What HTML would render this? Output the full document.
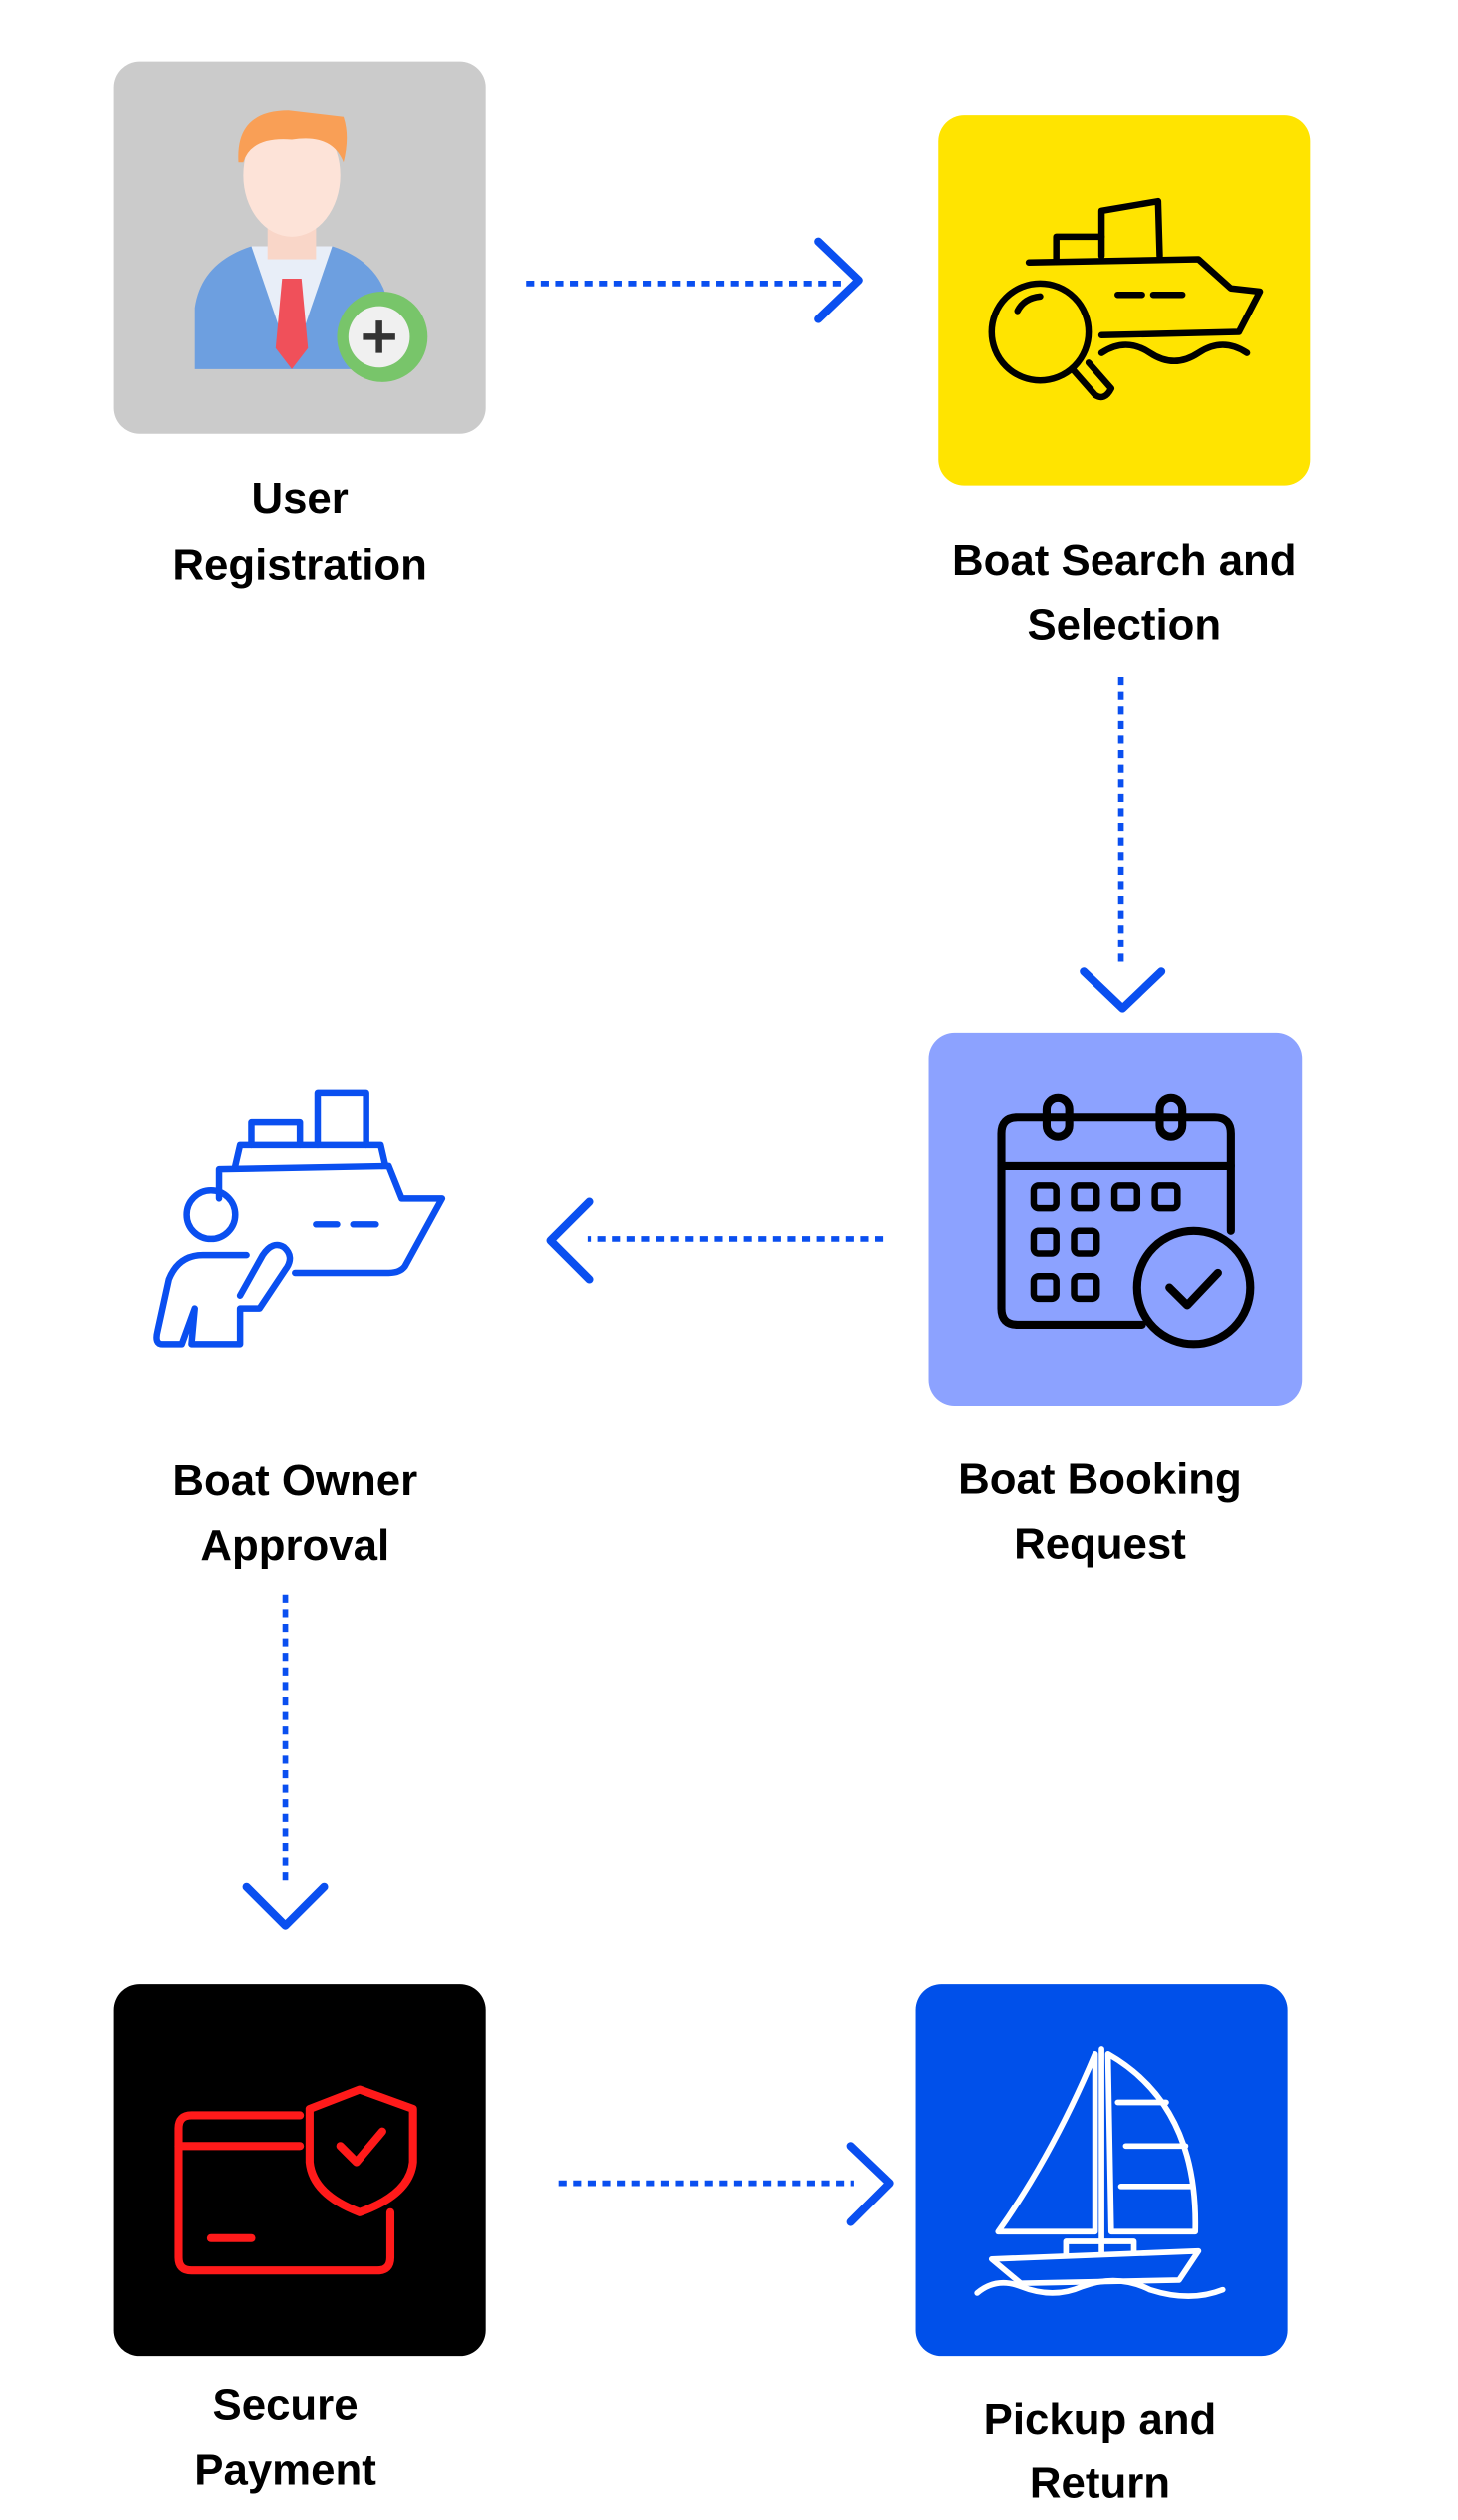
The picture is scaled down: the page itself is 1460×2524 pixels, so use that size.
<!DOCTYPE html>
<html><head><meta charset="utf-8"><style>
html,body{margin:0;padding:0;background:#fff;}
svg{display:block;}
text{font-family:"Liberation Sans",sans-serif;font-weight:bold;font-size:27px;fill:#000;text-anchor:middle;}
</style></head><body>
<svg width="1460" height="2524" viewBox="0 0 900 1556" xmlns="http://www.w3.org/2000/svg">
<!-- Box1 user registration -->
<rect x="70" y="38" width="230" height="230" rx="16" fill="#cbcbcb"/>
<path d="M120 228 L120 190 Q124 162 155 152 L205 152 Q236 162 240 190 L240 228 Z" fill="#6d9fe0"/>
<path d="M155 152 L180 225 L205 152 Z" fill="#e8eef8"/>
<path d="M174 172 L186 172 L190 215 L180 228 L170 215 Z" fill="#f0505a"/>
<rect x="165" y="130" width="30" height="30" fill="#f9d6c8"/>
<ellipse cx="180" cy="108" rx="30" ry="38" fill="#fde3d8"/>
<path d="M147 100 Q145 68 178 68 L212 72 Q216 84 212 100 Q205 82 180 86 Q155 84 150 100 Z" fill="#f99f56"/>
<circle cx="236" cy="208" r="28" fill="#78c56a"/>
<circle cx="234" cy="208" r="19" fill="#f0f0f0"/>
<path d="M234 198 V218 M224 208 H244" stroke="#333" stroke-width="4"/>
<text x="185" y="317">User</text>
<text x="185" y="358">Registration</text>

<!-- Box2 boat search -->
<rect x="579" y="71" width="230" height="229" rx="16" fill="#ffe400"/>
<g fill="none" stroke="#000" stroke-width="4" stroke-linecap="round" stroke-linejoin="round">
<path d="M680 158 L680 130 L715 124 L716 158"/>
<path d="M652 160 L652 146 L680 146"/>
<path d="M635 162 L740 160 L760 178 L778 180 L765 205 L680 207"/>
<path d="M690 182 H705 M712 182 H730"/>
<path d="M680 218 Q695 208 710 218 Q725 228 740 218 Q755 208 770 218"/>
<circle cx="642" cy="205" r="30"/>
<path d="M628 192 Q632 184 642 183"/>
<path d="M662 228 L676 244 Q682 248 686 240 L672 224"/>
</g>
<text x="694" y="355">Boat Search and</text>
<text x="694" y="395">Selection</text>

<!-- Box3 booking -->
<rect x="573" y="638" width="231" height="230" rx="16" fill="#8ca2ff"/>
<g fill="none" stroke="#000" stroke-width="5" stroke-linejoin="round" stroke-linecap="round">
<path d="M705 818 L628 818 Q618 818 618 808 L618 700 Q618 690 628 690 L750 690 Q760 690 760 700 L760 760"/>
<path d="M618 720 H760"/>
<rect x="646" y="678" width="14" height="24" rx="7"/>
<rect x="716" y="678" width="14" height="24" rx="7"/>
<circle cx="737" cy="795" r="35"/>
<path d="M722 795 L733 806 L752 786"/>
</g>
<g fill="none" stroke="#000" stroke-width="4">
<rect x="638" y="732" width="14" height="14" rx="3"/><rect x="663" y="732" width="14" height="14" rx="3"/><rect x="688" y="732" width="14" height="14" rx="3"/><rect x="713" y="732" width="14" height="14" rx="3"/>
<rect x="638" y="760" width="14" height="14" rx="3"/><rect x="663" y="760" width="14" height="14" rx="3"/>
<rect x="638" y="788" width="14" height="14" rx="3"/><rect x="663" y="788" width="14" height="14" rx="3"/>
</g>
<text x="679" y="922">Boat Booking</text>
<text x="679" y="962">Request</text>

<!-- Box4 owner -->
<g fill="none" stroke="#0a4ff0" stroke-width="4" stroke-linecap="round" stroke-linejoin="round">
<path d="M196 707 L196 675 L226 675 L226 707"/>
<path d="M155 707 L155 693 L185 693 L185 707"/>
<path d="M145 720 L148 707 L235 707 L238 720"/>
<path d="M135 740 L135 722 L240 720 L248 740 L273 740 L250 782 Q247 786 240 786 L182 786"/>
<path d="M195 756 H208 M218 756 H232"/>
<circle cx="130" cy="750" r="15"/>
<path d="M148 800 L162 775 Q168 766 175 770 Q182 776 176 784 L160 808 L148 808 L148 830 L118 830 L120 808 L112 830 L100 830 Q95 830 97 822 L104 790 Q110 775 125 775 L152 775"/>
</g>
<text x="182" y="923">Boat Owner</text>
<text x="182" y="963">Approval</text>

<!-- Box5 payment -->
<rect x="70" y="1225" width="230" height="230" rx="16" fill="#000"/>
<g fill="none" stroke="#ff1a1a" stroke-width="5" stroke-linecap="round" stroke-linejoin="round">
<path d="M185 1306 L118 1306 Q110 1306 110 1314 L110 1394 Q110 1402 118 1402 L233 1402 Q241 1402 241 1394 L241 1366"/>
<path d="M110 1325 H185"/>
<path d="M130 1382 H155"/>
<path d="M222 1290 L255 1302 L255 1335 Q253 1355 222 1366 Q193 1355 191 1335 L191 1302 Z"/>
<path d="M210 1325 L220 1335 L236 1316"/>
</g>
<text x="176" y="1494">Secure</text>
<text x="176" y="1534">Payment</text>

<!-- Box6 pickup -->
<rect x="565" y="1225" width="230" height="230" rx="16" fill="#0050ea"/>
<g fill="none" stroke="#fff" stroke-width="3.5" stroke-linecap="round" stroke-linejoin="round">
<path d="M680 1265 L680 1392"/>
<path d="M676 1268 Q650 1330 616 1378 L676 1378 Z"/>
<path d="M684 1268 Q740 1300 738 1378 L686 1378 Z"/>
<path d="M690 1298 H720 M695 1325 H732 M692 1350 H736"/>
<path d="M612 1395 L740 1390 L728 1408 L630 1410 Z"/>
<path d="M658 1392 L658 1384 L700 1384 L700 1390"/>
<path d="M603 1416 Q615 1406 630 1412 Q650 1420 668 1412 Q690 1404 710 1414 Q735 1422 755 1414"/>
</g>
<text x="679" y="1503">Pickup and</text>
<text x="679" y="1542">Return</text>

<!-- Connectors -->
<g stroke="#0a4ff0" stroke-width="3.5" fill="none" stroke-dasharray="5 4">
<path d="M325 175 H520"/>
<path d="M692 418 V598"/>
<path d="M545 765 H363"/>
<path d="M176 985 V1163"/>
<path d="M345 1348 H527"/>
</g>
<g stroke="#0a4ff0" stroke-width="5" fill="none" stroke-linecap="round" stroke-linejoin="round">
<path d="M505 149 L530 173 L505 197"/>
<path d="M669 600 L693 623 L717 600"/>
<path d="M364 742 L340 766 L364 790"/>
<path d="M152 1165 L176 1189 L200 1165"/>
<path d="M525 1325 L549 1348 L525 1372"/>
</g>
</svg>
</body></html>
